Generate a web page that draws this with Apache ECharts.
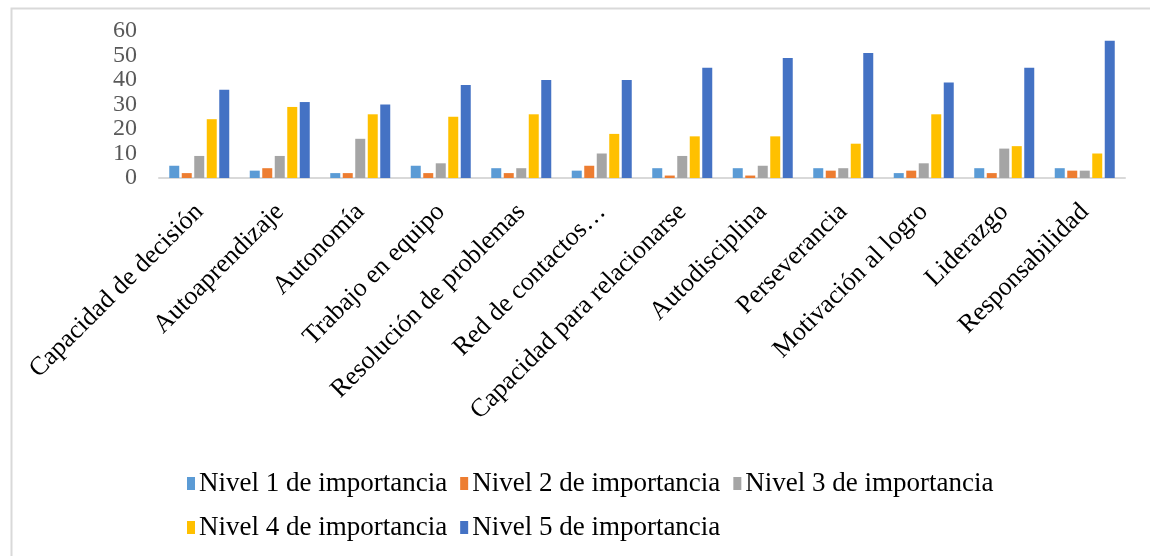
<!DOCTYPE html>
<html>
<head>
<meta charset="utf-8">
<script src="https://cdn.jsdelivr.net/npm/echarts@6/dist/echarts.min.js"></script>
<style>
html,body{margin:0;padding:0;background:#fff;}
#chart{width:1150px;height:556px;}
</style>
</head>
<body>
<div id="chart"></div>
<script>
const categories = ['Capacidad de decisión','Autoaprendizaje','Autonomía','Trabajo en equipo','Resolución de problemas','Red de contactos…','Capacidad para relacionarse','Autodisciplina','Perseverancia','Motivación al logro','Liderazgo','Responsabilidad'];
const seriesNames = ['Nivel 1 de importancia','Nivel 2 de importancia','Nivel 3 de importancia','Nivel 4 de importancia','Nivel 5 de importancia'];
const nivel1 = [5, 3, 2, 5, 4, 3, 4, 4, 4, 2, 4, 4];
const nivel2 = [2, 4, 2, 2, 2, 5, 1, 1, 3, 3, 2, 3];
const nivel3 = [9, 9, 16, 6, 4, 10, 9, 5, 4, 6, 12, 3];
const nivel4 = [24, 29, 26, 25, 26, 18, 17, 17, 14, 26, 13, 10];
const nivel5 = [36, 31, 30, 38, 40, 40, 45, 49, 51, 39, 45, 56];
const yTicks = [0, 10, 20, 30, 40, 50, 60];
const colors = ['#5B9BD5','#ED7D31','#A5A5A5','#FFC000','#4472C4'];

const allData = [nivel1, nivel2, nivel3, nivel4, nivel5];
const FONT = "'Liberation Serif','Times New Roman',serif";

const chart = echarts.init(document.getElementById('chart'), null, {renderer:'canvas'});
chart.setOption({
  animation: false,
  color: colors,
  graphic: [{
    type: 'rect', left: 9, top: 6, z: -1,
    shape: {x: 0, y: 0, width: 1160, height: 570},
    style: {fill: 'none', stroke: '#d9d9d9', lineWidth: 2}
  }],
  grid: {left: 159, right: 25, top: 31, bottom: 378},
  legend: {
    left: 182, top: 463, width: 840,
    itemWidth: 8, itemHeight: 13, itemGap: 13,
    icon: 'rect',
    textStyle: {fontFamily: FONT, fontSize: 27, color: '#000', lineHeight: 31, padding: [0,0,0,-1]},
    data: seriesNames
  },
  xAxis: {
    type: 'category',
    data: categories,
    axisLine: {lineStyle: {color: '#d9d9d9', width: 2}},
    axisTick: {show: false},
    axisLabel: {rotate: 45, interval: 0, margin: 30, fontFamily: FONT, fontSize: 26, color: '#000'}
  },
  yAxis: {
    type: 'value', min: yTicks[0], max: yTicks[yTicks.length-1], interval: 10,
    axisLine: {show: false}, axisTick: {show: false}, splitLine: {show: false},
    axisLabel: {margin: 22, fontFamily: FONT, fontSize: 24, lineHeight: 22, color: '#595959', showMinLabel: true, showMaxLabel: true, hideOverlap: false}
  },
  series: seriesNames.map((n, i) => ({
    name: n, type: 'bar', data: allData[i],
    barWidth: 10, barGap: '25%',
    itemStyle: {color: colors[i]}
  }))
});
</script>
</body>
</html>
